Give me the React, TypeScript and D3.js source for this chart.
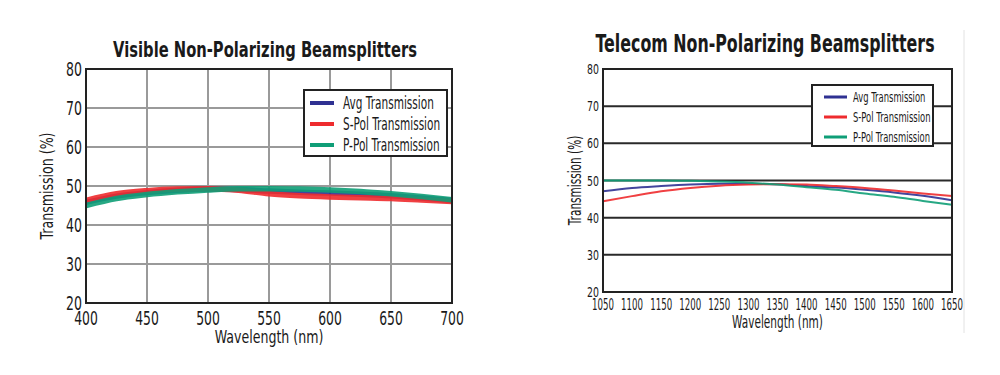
import { useRef, useEffect } from "react";
import * as d3 from "d3";

// visible beamsplitter curves (nm -> %)
const visWave = [400, 425, 450, 475, 500, 525, 550, 575, 600, 625, 650, 675, 700];
const visAvg = [45.8, 47.4, 48.3, 48.9, 49.2, 49.1, 48.7, 48.4, 48.2, 47.9, 47.5, 46.9, 46.3];
const visS = [46.3, 48.0, 48.8, 49.2, 49.3, 48.9, 48.0, 47.5, 47.2, 47.0, 46.8, 46.4, 46.0];
const visP = [45.0, 46.8, 47.8, 48.5, 49.0, 49.3, 49.3, 49.2, 49.0, 48.6, 48.0, 47.3, 46.5];

// telecom beamsplitter curves
const telWave = [1050, 1100, 1150, 1200, 1250, 1300, 1350, 1400, 1450, 1500, 1550, 1600, 1650];
const telAvg = [47.1, 48.0, 48.5, 48.9, 49.1, 49.1, 49.0, 48.5, 48.1, 47.5, 46.8, 45.9, 44.7];
const telS = [44.4, 45.8, 47.1, 48.0, 48.6, 48.9, 49.0, 48.9, 48.5, 48.0, 47.3, 46.5, 45.8];
const telP = [50.0, 50.0, 50.0, 49.9, 49.7, 49.4, 48.9, 48.2, 47.5, 46.5, 45.6, 44.5, 43.5];

const yTicks = [20, 30, 40, 50, 60, 70, 80];
const visXTicks = [400, 450, 500, 550, 600, 650, 700];
const telXTicks = [1050, 1100, 1150, 1200, 1250, 1300, 1350, 1400, 1450, 1500, 1550, 1600, 1650];
const seriesNames = ["Avg Transmission", "S-Pol Transmission", "P-Pol Transmission"];
const colors = ["#2f3192", "#ee2b2e", "#0f9e77"];

const FONT = "'DejaVu Sans', sans-serif";

const App = () => {
  const svgRef = useRef<SVGSVGElement>(null);

  useEffect(() => {
    const svg: any = d3.select(svgRef.current);
    svg.selectAll("*").remove();

    // condensed text: the original uses a narrow face, so squeeze horizontally
    const label = (g: any, x: number, y: number, txt: string | number, size: number, sx: number,
      anchor = "middle", bold = false, rot = 0, dy = "0") => {
      g.append("text")
        .attr("transform", `translate(${x},${y}) rotate(${rot}) scale(${sx},1)`)
        .attr("text-anchor", anchor)
        .attr("dy", dy)
        .attr("font-family", FONT)
        .attr("font-weight", bold ? "bold" : "normal")
        .attr("font-size", size)
        .attr("fill", "#1a1a1a")
        .text(txt);
    };

    const drawPanel = (opts: any) => {
      const { left, right, top, bottom, wave, series, xTicks, vGrid, gridColor, lw } = opts;
      const g = svg.append("g");
      const x = d3.scaleLinear().domain([xTicks[0], xTicks[xTicks.length - 1]]).range([left, right]);
      const y = d3.scaleLinear().domain([20, 80]).range([bottom, top]);

      // grid
      g.selectAll(".hg")
        .data(yTicks.slice(1, -1))
        .join("line")
        .attr("x1", left).attr("x2", right)
        .attr("y1", (d: number) => y(d)).attr("y2", (d: number) => y(d))
        .attr("stroke", gridColor).attr("stroke-width", 2);
      if (vGrid) {
        g.selectAll(".vg")
          .data(xTicks.slice(1, -1))
          .join("line")
          .attr("x1", (d: number) => x(d)).attr("x2", (d: number) => x(d))
          .attr("y1", top).attr("y2", bottom)
          .attr("stroke", gridColor).attr("stroke-width", 2);
      }

      // curves
      const line = d3.line<number>()
        .x((_, i) => x(wave[i]))
        .y((d) => y(d))
        .curve(d3.curveMonotoneX);
      series.forEach((s: number[], i: number) => {
        g.append("path")
          .attr("d", line(s))
          .attr("fill", "none")
          .attr("stroke", colors[i])
          .attr("stroke-width", lw)
          .attr("opacity", 0.9);
      });

      g.append("rect")
        .attr("x", left).attr("y", top)
        .attr("width", right - left).attr("height", bottom - top)
        .attr("fill", "none").attr("stroke", "#222").attr("stroke-width", 2);

      // tick labels
      yTicks.forEach((d) => label(g, left - opts.yLabelGap, y(d), d, opts.tickSize, opts.tickSx, "end", false, 0, "0.36em"));
      xTicks.forEach((d: number) => label(g, x(d), bottom + opts.xLabelGap, d, opts.xTickSize, opts.xTickSx));

      // titles
      label(g, opts.titleX, opts.titleY, opts.title, opts.titleSize, opts.titleSx, "middle", true);
      label(g, (left + right) / 2, opts.xTitleY, "Wavelength (nm)", opts.axisTitleSize, opts.axisSx);
      label(g, opts.yTitleX, (top + bottom) / 2, "Transmission (%)", opts.axisTitleSize, opts.axisSx, "middle", false, -90);

      // legend
      const L = opts.legend;
      g.append("rect")
        .attr("x", L.x).attr("y", L.y).attr("width", L.w).attr("height", L.h)
        .attr("fill", "#fff").attr("stroke", "#222").attr("stroke-width", 2);
      seriesNames.forEach((name, i) => {
        const ry = L.y + L.first + i * L.step;
        g.append("line")
          .attr("x1", L.x + L.pad).attr("x2", L.x + L.pad + L.len)
          .attr("y1", ry).attr("y2", ry)
          .attr("stroke", colors[i]).attr("stroke-width", L.lw);
        label(g, L.x + L.pad + L.len + L.gap, ry, name, L.size, L.sx, "start", false, 0, "0.36em");
      });
    };

    drawPanel({
      left: 86, right: 452, top: 69, bottom: 303,
      wave: visWave, series: [visAvg, visS, visP],
      xTicks: visXTicks, vGrid: true, gridColor: "#9a9a9a", lw: 5.5,
      yLabelGap: 4, xLabelGap: 22, tickSize: 19, tickSx: 0.66, xTickSize: 20, xTickSx: 0.62,
      title: "Visible Non-Polarizing Beamsplitters", titleX: 265, titleY: 57, titleSize: 22, titleSx: 0.67,
      xTitleY: 343, yTitleX: 53, axisTitleSize: 18, axisSx: 0.7,
      legend: { x: 304, y: 90, w: 143, h: 66, first: 13, step: 21, pad: 6, len: 24, gap: 9, lw: 4, size: 17, sx: 0.62 },
    });

    drawPanel({
      left: 603, right: 952, top: 69, bottom: 292,
      wave: telWave, series: [telAvg, telS, telP],
      xTicks: telXTicks, vGrid: false, gridColor: "#2a2a2a", lw: 2,
      yLabelGap: 4, xLabelGap: 18, tickSize: 14, tickSx: 0.67, xTickSize: 16, xTickSx: 0.54,
      title: "Telecom Non-Polarizing Beamsplitters", titleX: 765, titleY: 52, titleSize: 24, titleSx: 0.66,
      xTitleY: 328, yTitleX: 581, axisTitleSize: 17, axisSx: 0.62,
      legend: { x: 812, y: 85, w: 121, h: 61, first: 12, step: 20, pad: 12, len: 23, gap: 6, lw: 3, size: 14, sx: 0.6 },
    });

    // faint image edge on the right
    svg.append("line")
      .attr("x1", 964).attr("x2", 964).attr("y1", 30).attr("y2", 333)
      .attr("stroke", "#e2e2e2").attr("stroke-width", 1);
  }, []);

  return (
    <svg ref={svgRef} width={1000} height={375}
      style={{ position: "absolute", left: 0, top: 0, background: "#fff" }} />
  );
};

export default App;
